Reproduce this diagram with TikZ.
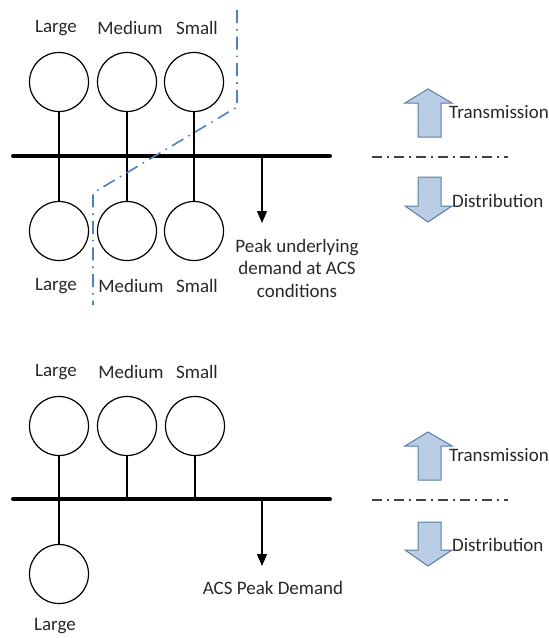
\documentclass[tikz,border=0pt]{standalone}
\usepackage{fontspec}
\setmainfont{Carlito}
\usetikzlibrary{arrows.meta}
\definecolor{cutblue}{RGB}{79,129,189}
\definecolor{arrfill}{RGB}{185,205,229}
\definecolor{arredge}{RGB}{90,125,165}
\definecolor{txt}{RGB}{40,40,40}
\tikzset{
  unit/.style={circle,draw,line width=1.2pt,minimum size=59pt,inner sep=0pt},
  lbl/.style={font=\fontsize{19}{22.5}\selectfont,text=txt,inner sep=0pt},
  feeder/.style={line width=1.2pt},
  bus/.style={line width=4pt,line cap=round},
  load/.style={line width=1.2pt,-{Triangle[length=12pt,width=10pt]}},
  cutline/.style={cutblue,line width=1.6pt,dash pattern=on 13pt off 6pt on 1.6pt off 6pt},
  boundary/.style={black!75,line width=1.4pt,dash pattern=on 10pt off 5pt on 2pt off 5pt},
  blockarrow/.style={fill=arrfill,draw=arredge,line width=1pt,line join=miter}
}
\begin{document}
\begin{tikzpicture}[x=1pt,y=-1pt]
\useasboundingbox (0,0) rectangle (549,638);
% ---------- top diagram ----------
\node[lbl] (tLl) at (56,28) {Large};
\node[lbl] (tMl) at (130,28) {Medium};
\node[lbl] (tSl) at (197,28) {Small};
\node[unit] (tL) at (59,82) {};
\node[unit] (tM) at (127,82) {};
\node[unit] (tS) at (194,82) {};
\coordinate (busAw) at (13,156);
\coordinate (busAe) at (330,156);
\draw[bus] (busAw) -- (busAe);
\node[unit] (bL) at (59,231) {};
\node[unit] (bM) at (127,231) {};
\node[unit] (bS) at (194,231) {};
\draw[feeder] (tL.south) -- (bL.north);
\draw[feeder] (tM.south) -- (bM.north);
\draw[feeder] (tS.south) -- (bS.north);
\node[lbl] (bLl) at (56,286) {Large};
\node[lbl] (bMl) at (131,286) {Medium};
\node[lbl] (bSl) at (197,286) {Small};
\coordinate (ldA) at (262,156);
\node[lbl,align=center] (peak) at (297,268) {Peak underlying\\demand at ACS\\conditions};
\coordinate (ldAend) at (262,223);
\draw[load] (ldA) -- (ldAend);
% cut line
\coordinate (c1) at (237,10);
\coordinate (c2) at (237,107);
\coordinate (c3) at (93,193);
\coordinate (c4) at (93,305);
\draw[cutline] (c1) -- (c2) -- (c3) -- (c4);
% right legend (top)
\draw[blockarrow] (428,89) -- (452,103) -- (441,103) -- (441,137) -- (418,137) -- (418,103) -- (405,103) -- cycle;
\node[lbl,anchor=west] (trA) at (449,112) {Transmission};
\coordinate (bdAw) at (372,157);
\coordinate (bdAe) at (508,157);
\draw[boundary] (bdAw) -- (bdAe);
\draw[blockarrow] (418,177) -- (441,177) -- (441,206) -- (452,206) -- (428,222) -- (405,206) -- (418,206) -- cycle;
\node[lbl,anchor=west] (diA) at (452,201) {Distribution};
% ---------- bottom diagram ----------
\node[lbl] (tLl2) at (56,372) {Large};
\node[lbl] (tMl2) at (131,372) {Medium};
\node[lbl] (tSl2) at (197,372) {Small};
\node[unit] (tL2) at (59,426) {};
\node[unit] (tM2) at (127,426) {};
\node[unit] (tS2) at (195,426) {};
\coordinate (busBw) at (13,499);
\coordinate (busBe) at (330,499);
\draw[bus] (busBw) -- (busBe);
\node[unit] (bL2) at (59,574) {};
\draw[feeder] (tL2.south) -- (bL2.north);
\draw[feeder] (tM2.south) -- (tM2.south |- busBw);
\draw[feeder] (tS2.south) -- (tS2.south |- busBw);
\node[lbl] (bLl2) at (55,626) {Large};
\coordinate (ldB) at (262,499);
\coordinate (ldBend) at (262,566);
\draw[load] (ldB) -- (ldBend);
\node[lbl] (acs) at (273,588) {ACS Peak Demand};
% right legend (bottom)
\draw[blockarrow] (428,432) -- (452,446) -- (441,446) -- (441,480) -- (418,480) -- (418,446) -- (405,446) -- cycle;
\node[lbl,anchor=west] (trB) at (449,455) {Transmission};
\coordinate (bdBw) at (372,500);
\coordinate (bdBe) at (508,500);
\draw[boundary] (bdBw) -- (bdBe);
\draw[blockarrow] (418,522) -- (441,522) -- (441,550) -- (452,550) -- (428,566) -- (405,550) -- (418,550) -- cycle;
\node[lbl,anchor=west] (diB) at (452,545) {Distribution};
\end{tikzpicture}
\end{document}
